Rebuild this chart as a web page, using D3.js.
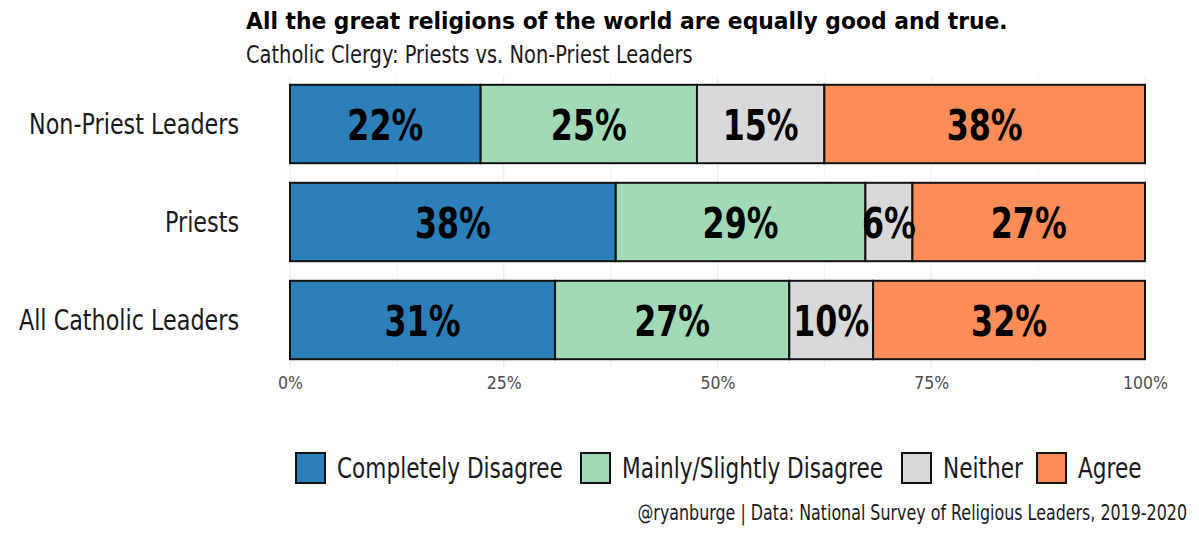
<!DOCTYPE html>
<html><head><meta charset="utf-8">
<script src="https://cdn.jsdelivr.net/npm/d3@7"></script>
<style>
body{margin:0;background:#fff;}
text{font-family:"DejaVu Sans",sans-serif;}
</style></head>
<body>
<svg id="chart" width="1199" height="533"></svg>
<script>
const groups = ["Non-Priest Leaders","Priests","All Catholic Leaders"];
const responses = ["Completely Disagree","Mainly/Slightly Disagree","Neither","Agree"];
const colors = ["#2c7fb8","#a1dab4","#d9d9d9","#fc8d59"];
const completelyDisagree = [22.3, 38.1, 31.0];
const mainlyDisagree = [25.3, 29.2, 27.4];
const neither = [14.9, 5.5, 9.8];
const agree = [37.5, 27.2, 31.8];
const xTicks = [0,25,50,75,100];
const titleText = "All the great religions of the world are equally good and true.";
const subtitleText = "Catholic Clergy: Priests vs. Non-Priest Leaders";
const captionText = "@ryanburge | Data: National Survey of Religious Leaders, 2019-2020";

const rows = groups.map((g,i)=>({group:g, "Completely Disagree":completelyDisagree[i], "Mainly/Slightly Disagree":mainlyDisagree[i], "Neither":neither[i], "Agree":agree[i]}));
const stacked = d3.stack().keys(responses)(rows);

const svg = d3.select("#chart");
const x = d3.scaleLinear().domain([0,100]).range([290,1145]);
const y = d3.scaleBand().domain(groups).range([75,369]).paddingInner(0.2).paddingOuter(0.1);
const color = d3.scaleOrdinal().domain(responses).range(colors);

// condense a group of texts horizontally (about their own anchor x) so the reference string gets the given width
function condense(sel, refIndex, refWidth){
  const nodes = sel.nodes();
  const f = refWidth / nodes[refIndex].getComputedTextLength();
  nodes.forEach(n=>{
    const ax = +n.getAttribute("x") || 0;
    const prev = n.getAttribute("transform") || "";
    n.setAttribute("transform", `${prev} translate(${ax},0) scale(${f},1) translate(${-ax},0)`);
  });
}

// grid
const minor = [12.5,37.5,62.5,87.5];
svg.append("g").selectAll("line").data(minor).join("line")
  .attr("x1",d=>x(d)).attr("x2",d=>x(d)).attr("y1",75).attr("y2",369)
  .attr("stroke","#f3f3f3").attr("stroke-width",1);
svg.append("g").selectAll("line").data(xTicks).join("line")
  .attr("x1",d=>x(d)).attr("x2",d=>x(d)).attr("y1",75).attr("y2",369)
  .attr("stroke","#ebebeb").attr("stroke-width",1);

// bars
const layer = svg.append("g").selectAll("g").data(stacked).join("g").attr("fill",d=>color(d.key));
layer.selectAll("rect").data(d=>d).join("rect")
  .attr("x",d=>x(d[0])).attr("width",d=>x(d[1])-x(d[0]))
  .attr("y",d=>y(d.data.group)).attr("height",y.bandwidth())
  .attr("stroke","#111").attr("stroke-width",2);

// labels
const lab = svg.append("g").selectAll("g").data(stacked).join("g");
const barLabels = lab.selectAll("text").data(d=>d).join("text")
  .attr("x",d=>x((d[0]+d[1])/2)).attr("y",d=>y(d.data.group)+y.bandwidth()/2)
  .attr("dy","0.37em").attr("text-anchor","middle")
  .attr("font-weight","bold").attr("font-size",42).attr("fill","#000")
  .text(d=>Math.round(d[1]-d[0])+"%");
condense(barLabels, 0, 76);

// y labels
const yl = svg.append("g").selectAll("text").data(groups).join("text")
  .attr("x",239).attr("y",d=>y(d)+y.bandwidth()/2).attr("dy","0.37em")
  .attr("text-anchor","end").attr("font-size",28).attr("fill","#1a1a1a").text(d=>d);
condense(yl, 0, 210);

// x axis
const xa = svg.append("g").attr("transform","translate(0,369)")
  .call(d3.axisBottom(x).tickValues(xTicks).tickFormat(d=>d+"%").tickSize(0).tickPadding(8));
xa.select(".domain").remove();
const xt = xa.selectAll("text").attr("font-size",17.5).attr("fill","#4d4d4d")
  .style("font-family",'"DejaVu Sans",sans-serif');
condense(xt, 4, 45);

// title
const t1 = svg.append("text").attr("x",246).attr("y",29).attr("font-size",23).attr("font-weight","bold").attr("fill","#000").text(titleText);
condense(t1, 0, 762);
const t2 = svg.append("text").attr("x",246).attr("y",63).attr("font-size",24).attr("fill","#1a1a1a").text(subtitleText);
condense(t2, 0, 447);

// legend
const legX = [296,581,902,1037];
const lg = svg.append("g").selectAll("g").data(responses).join("g")
  .attr("transform",(d,i)=>`translate(${legX[i]},453)`);
lg.append("rect").attr("width",29).attr("height",30).attr("fill",d=>color(d)).attr("stroke","#111").attr("stroke-width",2);
const lt = lg.append("text").attr("x",41).attr("y",15).attr("dy","0.37em").attr("font-size",28).attr("fill","#1a1a1a").text(d=>d);
condense(lt, 0, 226);

const cap = svg.append("text").attr("x",1187).attr("y",520).attr("text-anchor","end").attr("font-size",20.5).attr("fill","#1a1a1a").text(captionText);
condense(cap, 0, 550);
</script>
</body></html>
